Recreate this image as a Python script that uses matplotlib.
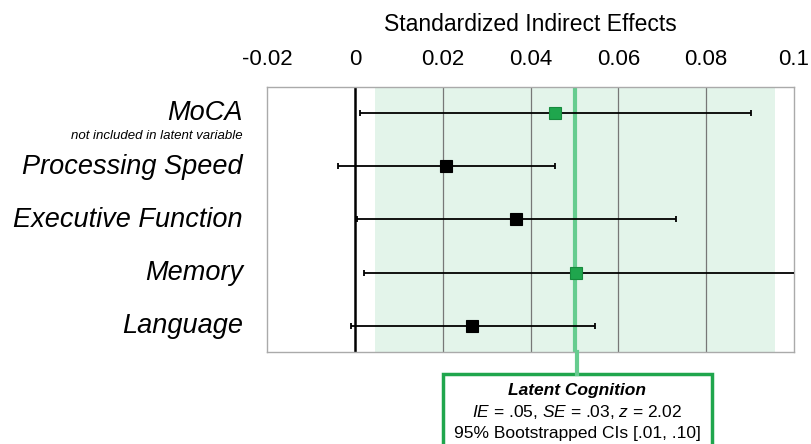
import matplotlib
matplotlib.use("Agg")
import matplotlib.pyplot as plt
from matplotlib.patches import Rectangle

# measures, top to bottom
measures = ["MoCA", "Processing Speed", "Executive Function", "Memory", "Language"]
estimates = [0.0456, 0.0208, 0.0366, 0.0504, 0.0267]
ci_low = [0.0011, -0.0038, 0.0004, 0.0020, -0.0008]
ci_high = [0.0902, 0.0456, 0.0732, 0.1040, 0.0547]
highlight = [True, False, False, True, False]

# latent cognition summary
latent_ie = 0.0502
latent_ci = [0.0047, 0.0956]
xticks = [-0.02, 0, 0.02, 0.04, 0.06, 0.08, 0.1]
xtick_labels = ["-0.02", "0", "0.02", "0.04", "0.06", "0.08", "0.1"]

GREEN = "#1fa64d"
LIGHT_GREEN = "#66cc8f"
SHADE = "#e3f4ea"

plt.rcParams["font.family"] = ["Liberation Sans", "DejaVu Sans"]
plt.rcParams["mathtext.fontset"] = "custom"
plt.rcParams["mathtext.it"] = "Liberation Sans:italic"
plt.rcParams["mathtext.rm"] = "Liberation Sans"

fig = plt.figure(figsize=(8.11, 4.44), dpi=100)
ax = fig.add_axes([267 / 811, 92 / 444, 527 / 811, 265 / 444])

ax.set_xlim(-0.02, 0.1)
ax.set_ylim(len(measures) - 0.5, -0.5)

ax.axvspan(latent_ci[0], latent_ci[1], color=SHADE, zorder=0, lw=0)
for x in xticks[2:-1]:
    ax.axvline(x, color="#777777", lw=0.9, zorder=1)
ax.axvline(0, color="black", lw=1.8, zorder=2)
ax.axvline(latent_ie, color=LIGHT_GREEN, lw=3, zorder=2)

for i in range(len(measures)):
    ax.errorbar(estimates[i], i,
                xerr=[[estimates[i] - ci_low[i]], [ci_high[i] - estimates[i]]],
                fmt="none", ecolor="black", elinewidth=1.3, capsize=2.5,
                capthick=1.3, zorder=3)
    face = GREEN if highlight[i] else "black"
    edge = "#178a3d" if highlight[i] else "black"
    ax.plot(estimates[i], i, marker="s", ms=8.5, mfc=face, mec=edge,
            mew=0.8, zorder=4)

ax.xaxis.tick_top()
ax.xaxis.set_label_position("top")
ax.set_xticks(xticks)
ax.set_xticklabels(xtick_labels, fontsize=16)
ax.tick_params(axis="x", length=0, pad=12)
ax.set_xlabel("Standardized Indirect Effects", fontsize=16.5, labelpad=13)
ax.set_yticks([])
for s in ax.spines.values():
    s.set_color("#aaaaaa")
    s.set_linewidth(1)

# row labels
for i, name in enumerate(measures):
    ax.text(-0.0255, i, name, ha="right", va="center", fontsize=19.5,
            style="italic", clip_on=False)
ax.text(-0.0255, 0.42, "not included in latent variable", ha="right",
        va="center", fontsize=9.5, style="italic", clip_on=False)

# connector and summary box
fig.add_artist(plt.Line2D([577 / 811, 577 / 811], [92 / 444, 70 / 444],
                          color=LIGHT_GREEN, lw=3, transform=fig.transFigure))
fig.add_artist(Rectangle((443 / 811, -0.05), 269 / 811, 70 / 444 + 0.05,
                         transform=fig.transFigure, fill=True, fc="white",
                         ec=GREEN, lw=2.5))
cx = 577 / 811
fig.text(cx, 54 / 444, "Latent Cognition", ha="center", va="center",
         fontsize=12.5, weight="bold", style="italic")
fig.text(cx, 32 / 444, r"$\it{IE}$ = .05, $\it{SE}$ = .03, $\it{z}$ = 2.02",
         ha="center", va="center", fontsize=12.5)
fig.text(cx, 11 / 444, "95% Bootstrapped CIs [.01, .10]", ha="center",
         va="center", fontsize=12.5)

fig.savefig("out.png", dpi=100)
